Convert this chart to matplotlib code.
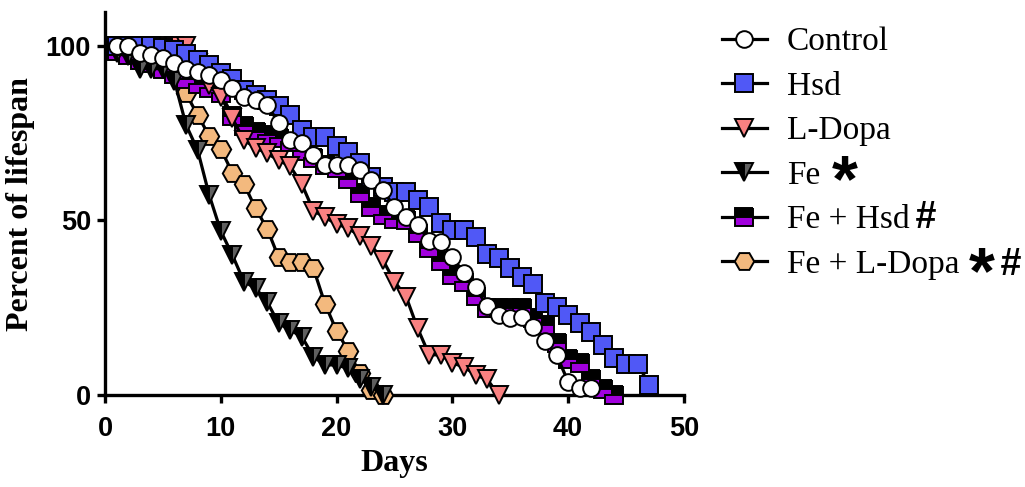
import matplotlib as mpl
mpl.use('Agg')
import matplotlib.pyplot as plt
from matplotlib.lines import Line2D
import numpy as np

# percent alive per day (day 1 .. last day)
control = [100, 100, 98, 97.4, 96.6, 95, 93.4, 92.6, 91.7, 90.3, 88, 85.5, 84.5, 83.1,
           78, 73, 72.1, 68.8, 66, 66, 66, 64.5, 61.6, 58.7, 53.8, 50.9, 48.7, 44.2,
           43.9, 39.5, 34.9, 30.9, 25.4, 23, 22, 22.2, 19.6, 15.4, 11.4, 3.8, 1.9, 1.9]
hsd = [100, 100, 100, 100, 99.5, 98.8, 97.6, 96, 94.6, 92.4, 90.5, 87.5, 86, 84.5,
       82.8, 80.2, 75.8, 73.8, 73.8, 71.3, 69.7, 66.4, 62.5, 59.5, 58.3, 58.3, 56, 54,
       49.2, 47.3, 47.3, 45.2, 40.3, 39.2, 36.3, 33.9, 31.8, 26.3, 25.3, 22.9, 20.5,
       18.1, 14.3, 10.5, 8.9, 8.9, 2.9]
ldopa = [100, 100, 100, 100, 100, 100, 100, 95, 88.8, 85.5, 79.3, 73, 70.9, 69.2,
         67.3, 65.5, 60.4, 52.8, 50.9, 49, 47.8, 45.6, 42.8, 38.7, 32.5, 28.2, 19.1,
         11.5, 11.5, 9.1, 8.1, 5.7, 4.5, 0]
fe = [98, 97, 93.5, 93.5, 93.5, 90, 77.4, 70.2, 57.3, 47, 40.1, 32.5, 30.6, 26.7,
      20.5, 18.6, 16.7, 11, 8.6, 8.6, 7.6, 4.5, 2.4, 0]
fe_hsd = [98.5, 97.5, 96, 95, 93.5, 92, 90.5, 89, 88, 86.5, 80, 77, 75.5, 74.5,
          73.5, 72.5, 70, 68, 66, 65, 62, 58, 54, 51.5, 50.5, 50, 46.5, 42, 38.5,
          34.5, 32.5, 28.5, 25, 25, 25, 25, 22, 20, 15, 10.3, 9.3, 4.6, 1.7, 0]
fe_ldopa = [100, 100, 100, 100, 100, 95, 86.4, 80.2, 74.3, 70.5, 63.7, 60.5, 53.5,
            47.7, 39.4, 38.2, 38.2, 36.3, 26.1, 18.4, 12.7, 6.2, 1.4, 0]

labels = ["Control", "Hsd", "L-Dopa", "Fe", "Fe + Hsd", "Fe + L-Dopa"]
series = [control, hsd, ldopa, fe, fe_hsd, fe_ldopa]

styles = [
    dict(marker='o', mfc='white', ms=12),
    dict(marker='s', mfc='#5058F6', ms=12.5),
    dict(marker='v', mfc='#F98181', ms=13),
    dict(marker='v', mfc='black', mfcalt='#5F5F5F', fillstyle='left', ms=13),
    dict(marker='s', mfc='black', mfcalt='#A100DD', fillstyle='top', ms=12.5),
    dict(marker='H', mfc='#F3B97E', ms=14),
]

fig = plt.figure(figsize=(10.25, 4.87), dpi=100)
ax = fig.add_axes([0.1024, 0.189, 0.5649, 0.786])

handles = []
for i, (vals, st) in enumerate(zip(series, styles)):
    days = np.arange(1, len(vals) + 1)
    ax.plot(days, vals, color='black', lw=2.3, mec='black', mew=1.4,
            zorder=20 - i, clip_on=False, **st)
    handles.append(Line2D([], [], color='black', lw=2.3, mec='black', mew=1.4, **st))

ax.set_xlim(0, 50)
ax.set_ylim(0, 109.7)
ax.set_xticks([0, 10, 20, 30, 40, 50])
ax.set_yticks([0, 50, 100])
for s in ['top', 'right']:
    ax.spines[s].set_visible(False)
for s in ['left', 'bottom']:
    ax.spines[s].set_linewidth(2.4)
ax.tick_params(width=2.4, length=6)
ax.tick_params(axis='x', pad=9)
ax.tick_params(axis='y', pad=4)
for t in ax.get_xticklabels() + ax.get_yticklabels():
    t.set_fontfamily('Liberation Sans')
    t.set_fontweight('bold')
    t.set_fontsize(19.5)

ax.set_xlabel("Days", family='Liberation Serif', weight='bold', fontsize=23, labelpad=5)
ax.set_ylabel("Percent of lifespan", family='Liberation Serif', weight='bold',
              fontsize=23, labelpad=8)

fig.legend(handles, labels, loc='upper left', bbox_to_anchor=(0.704, 0.945),
           frameon=False, prop={'family': 'Liberation Serif', 'size': 24},
           handlelength=1.35, handletextpad=0.6, labelspacing=0.42,
           borderpad=0, borderaxespad=0, numpoints=1)

sym = dict(family='Liberation Sans', weight='bold', ha='center', va='center')
fig.text(845 / 1025, 1 - 184 / 487, "*", fontsize=48, **sym)
fig.text(925 / 1025, 1 - 218 / 487, "#", fontsize=27, style='italic', **sym)
fig.text(982 / 1025, 1 - 276 / 487, "*", fontsize=48, **sym)
fig.text(1010 / 1025, 1 - 265 / 487, "#", fontsize=27, style='italic', **sym)

fig.savefig("out.png", dpi=100)
